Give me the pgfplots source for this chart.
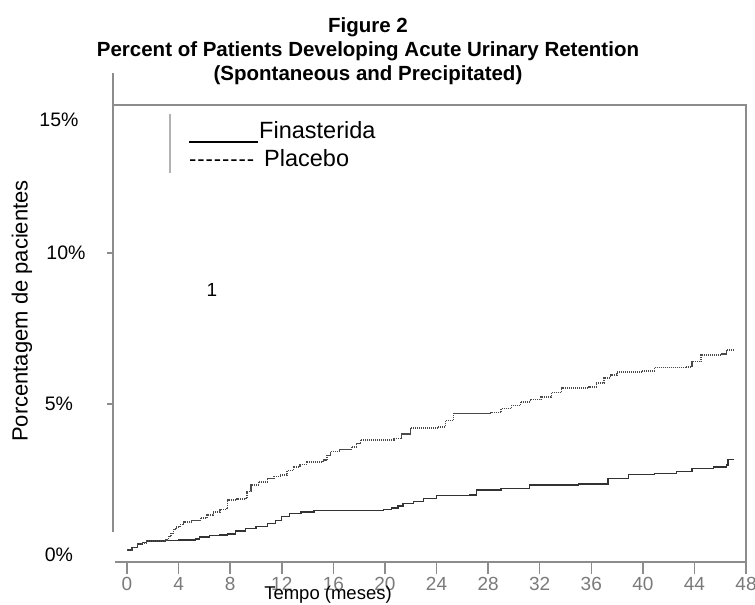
\documentclass[border=0pt]{standalone}
\usepackage{fontspec}
\setmainfont{Liberation Sans}
\newfontfamily\plain{Liberation Sans}
\usepackage{pgfplots}
\usepackage{pgfplotstable}
\pgfplotsset{compat=1.18}

\definecolor{framegray}{HTML}{8C8C8C}
\definecolor{ticktxt}{HTML}{7A7A7A}
\definecolor{fin}{HTML}{333333}
\definecolor{pla}{HTML}{4A4A4A}

% months, percent
\pgfplotstableread{
m p
0 0.17
0.4 0.25
0.8 0.36
1.2 0.40
1.5 0.46
3.0 0.50
3.2 0.62
3.4 0.72
3.6 0.85
3.8 0.93
4.1 1.00
4.4 1.09
5.0 1.15
5.7 1.22
6.2 1.32
6.7 1.43
7.2 1.50
7.7 1.56
7.8 1.82
8.5 1.85
9.1 1.88
9.3 2.10
9.6 2.32
10.2 2.42
10.9 2.54
11.4 2.60
11.9 2.65
12.4 2.80
12.9 2.91
13.4 3.00
13.9 3.08
15.2 3.14
15.5 3.30
15.8 3.42
16.5 3.50
17.4 3.58
17.8 3.70
18.1 3.81
20.7 3.85
21.3 4.00
22.0 4.20
24.1 4.24
24.7 4.45
25.3 4.69
28.2 4.72
29.0 4.85
29.8 4.95
30.5 5.07
31.3 5.15
32.1 5.23
32.9 5.38
33.7 5.53
35.8 5.56
36.4 5.70
37.0 5.86
37.5 5.96
38.0 6.06
39.9 6.09
40.9 6.21
43.3 6.23
43.8 6.40
44.5 6.62
46.1 6.65
46.5 6.79
47.1 6.79
}\placebo

\pgfplotstableread{
m p
0 0.17
0.4 0.25
0.8 0.36
1.2 0.42
1.5 0.46
3.0 0.48
4.0 0.50
5.3 0.53
5.6 0.60
6.4 0.64
7.2 0.66
7.8 0.70
8.4 0.80
9.2 0.88
10.0 0.95
10.9 1.05
11.5 1.15
12.0 1.28
12.6 1.38
13.5 1.42
14.5 1.47
19.9 1.50
20.5 1.55
21.0 1.62
21.4 1.71
22.2 1.78
23.0 1.87
24.0 1.96
26.6 1.99
27.1 2.15
29.0 2.20
31.2 2.32
35.0 2.35
37.3 2.54
38.9 2.66
40.9 2.70
42.6 2.76
43.8 2.87
45.5 2.92
46.5 2.98
46.6 3.17
47.1 3.17
}\finasterida

\begin{document}
\begin{tikzpicture}[x=1pt,y=1pt]
\path[use as bounding box] (0,0) rectangle (755,605);

% title
\node[align=center, font=\bfseries\fontsize{20.5}{24}\selectfont] at (368,554)
  {Figure 2\\Percent of Patients Developing Acute Urinary Retention\\(Spontaneous and Precipitated)};

\begin{axis}[
    at={(113pt,43pt)}, anchor=south west,
    scale only axis, width=633pt, height=457pt,
    xmin=-1.086, xmax=48,
    ymin=-0.232, ymax=14.9,
    axis line style={draw=none},
    tick align=outside,
    xtick pos=bottom, ytick pos=left,
    major tick length=12pt,
    xtick={0,4,...,48},
    xticklabels={0,4,8,12,16,20,24,28,32,36,40,44,48},
    xtick style={draw=framegray, line width=1.5pt},
    xticklabel style={text=ticktxt, font=\fontsize{19}{19}\selectfont},
    ytick={0,5,10,14.4},
    yticklabels={0\%,5\%,\hspace*{14pt}10\%,15\%},
    ytick style={draw=none},
    yticklabel style={anchor=center, xshift=-42pt, font=\fontsize{19.5}{19.5}\selectfont},
    clip=false,
]
\addplot[const plot, draw=fin, line width=1.4pt] table[x=m, y=p] {\finasterida};
\addplot[const plot, draw=pla, line width=1.4pt, dash pattern=on 1.2pt off 0.8pt] table[x=m, y=p] {\placebo};
\end{axis}

% frame pieces
\draw[framegray, line width=1.8pt] (113,532) -- (113,73);
\draw[framegray, line width=1.8pt] (112.1,500) -- (746,500) -- (746,31);
\draw[framegray, line width=1.8pt] (115,43) -- (746,43);
\draw[framegray, line width=1.5pt] (107,352) -- (113,352);
\draw[framegray, line width=1.5pt] (107,201) -- (113,201);

% legend
\draw[gray!60, line width=1.5pt] (170,491) -- (170,432);
\draw[black, line width=1.5pt] (189,463) -- (258,463);
\node[anchor=base west, inner sep=0pt, font=\plain\fontsize{23.5}{23.5}\selectfont] at (259,466) {Finasterida};
\node[anchor=base west, inner sep=0pt, font=\plain\fontsize{22}{22}\selectfont] at (189,438)
  {-\kern0.9pt-\kern0.9pt-\kern0.9pt-\kern0.9pt-\kern0.9pt-\kern0.9pt-\kern0.9pt-};
\node[anchor=base west, inner sep=0pt, font=\plain\fontsize{23.5}{23.5}\selectfont] at (264,438) {Placebo};

\node[font=\fontsize{19}{19}\selectfont] at (212,315) {1};

% axis titles
\node[rotate=90, font=\fontsize{22}{22}\selectfont] at (22,294) {Porcentagem de pacientes};
\node[font=\fontsize{18.5}{18.5}\selectfont] at (328,10) {Tempo (meses)};
\end{tikzpicture}
\end{document}
